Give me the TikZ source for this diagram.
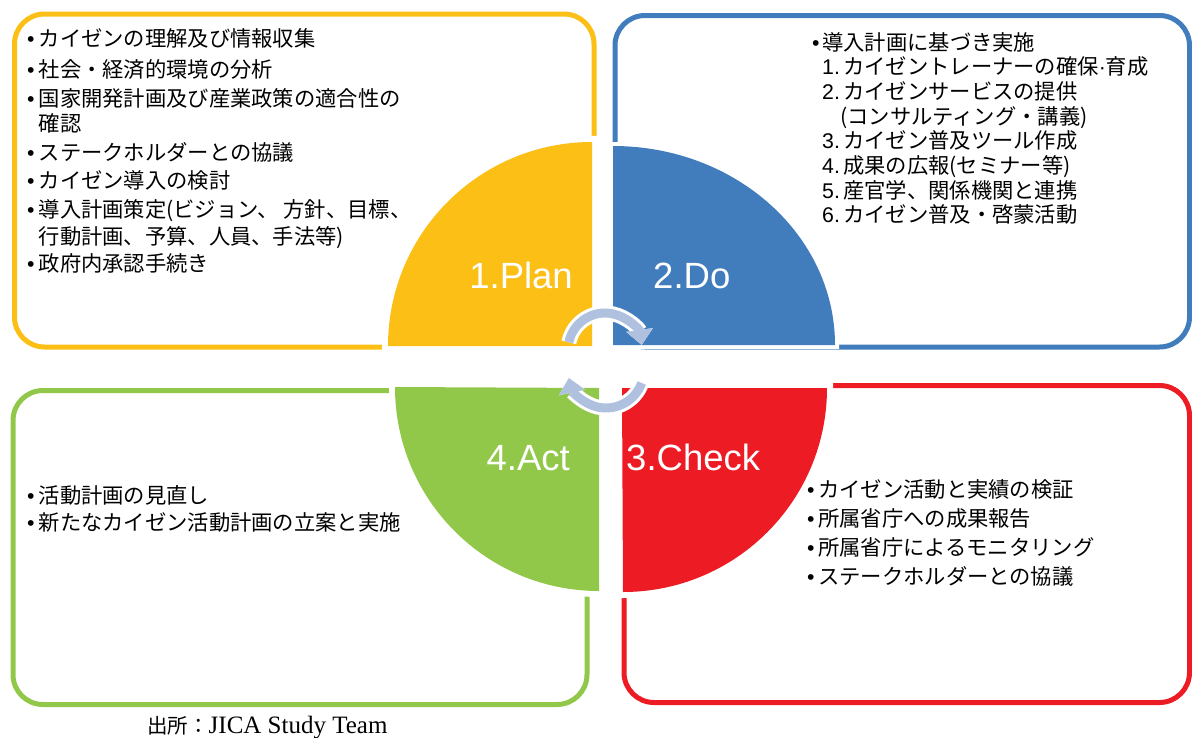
\documentclass[tikz,border=0pt]{standalone}
\usepackage{fontspec}
\setmainfont{Noto Sans CJK JP}
\newfontfamily\ar{Liberation Sans}
\newfontfamily\tms{Liberation Serif}
\usetikzlibrary{arrows.meta}
\definecolor{cyel}{HTML}{FBBF16}
\definecolor{cblu}{HTML}{417DBD}
\definecolor{cred}{HTML}{ED1C24}
\definecolor{cgrn}{HTML}{92C84A}
\definecolor{carr}{HTML}{B0C1DF}
\begin{document}
\begin{tikzpicture}[x=1pt,y=-1pt,
  box/.style={line width=5pt, rounded corners=30pt},
  wedge/.style={preaction={draw=white,line width=12pt}},
  jt/.style={anchor=base west, inner sep=0pt, font=\fontsize{21.3}{21.3}\selectfont},
  bul/.style={anchor=base west, inner sep=0pt, font=\ar\fontsize{21.3}{21.3}\selectfont},
  lab/.style={inner sep=0pt, text=white, font=\ar\fontsize{36.5}{36.5}\selectfont},
  arrline/.style={draw=carr, line width=9pt,
     preaction={draw=white, line width=15pt}},
]
\useasboundingbox (0,0) rectangle (1192,737);
% boxes
\draw[box, cyel] (14.5,14) rectangle (594,347);
\draw[box, cblu] (615,15.5) rectangle (1189.5,347);
\draw[box, cgrn] (13,390.5) rectangle (587,704.5);
\draw[box, cred] (624,385.5) rectangle (1189.5,702.5);
% wedges
\coordinate (cP) at (592,346);
\coordinate (cD) at (613,345);
\coordinate (cC) at (622,388);
\coordinate (cA) at (599,388);
\fill[cyel, wedge] (cP) -- ++(-204,0) arc[start angle=180, end angle=270, radius=204] -- cycle;
\fill[cblu, preaction={draw=white,line width=8pt}] (cD) -- ++(0,-199) arc[start angle=270, end angle=360, x radius=222, y radius=199] -- cycle;
\fill[cred, wedge] (cC) -- ++(205,0) arc[start angle=0, end angle=90, radius=204] -- cycle;
\fill[cgrn, wedge] (cA) -- ++(0,203) arc[start angle=90, end angle=180, radius=204] -- cycle;
% cycle arrows
\coordinate (tc) at (605,350);
\coordinate (bc) at (606,370);
\draw[arrline, -{Triangle[width=26pt,length=15pt]}] ([shift={(192:37)}]tc) arc[start angle=192, end angle=352, radius=37];
\draw[arrline, -{Triangle[width=26pt,length=15pt]}] ([shift={(20:38)}]bc) arc[start angle=20, end angle=168, radius=38];
% labels
\node[lab, anchor=base east] (lP) at (573,288) {1.Plan};
\node[lab, anchor=base west] (lD) at (653,288) {2.Do};
\node[lab, anchor=base east] (lA) at (570,470) {4.Act};
\node[lab, anchor=base west] (lC) at (626,470) {3.Check};
% Plan text
\node[bul] (pb1) at (27,46.5) {•};
\node[jt] (p1) at (38.5,46.5) {カイゼンの理解及び情報収集};
\node[bul] (pb2) at (27,77) {•};
\node[jt] (p2) at (38.5,77) {社会・経済的環境の分析};
\node[bul] (pb3) at (27,106) {•};
\node[jt] (p3) at (38.5,106) {国家開発計画及び産業政策の適合性の};
\node[jt] (p3b) at (38.5,131) {確認};
\node[bul] (pb4) at (27,160) {•};
\node[jt] (p4) at (38.5,160) {ステークホルダーとの協議};
\node[bul] (pb5) at (27,188) {•};
\node[jt] (p5) at (38.5,188) {カイゼン導入の検討};
\node[bul] (pb6) at (27,217) {•};
\node[jt] (p6) at (38.5,217) {導入計画策定(ビジョン、 方針、目標、};
\node[jt] (p6b) at (38.5,244) {行動計画、予算、人員、手法等)};
\node[bul] (pb7) at (27,271) {•};
\node[jt] (p7) at (38.5,271) {政府内承認手続き};
% Do text
\node[bul] (db0) at (812,50) {•};
\node[jt] (d0) at (822,50) {導入計画に基づき実施};
\node[bul] (dn1) at (822,74.7) {1.};
\node[jt] (d1) at (843,74.7) {カイゼントレーナーの確保{\ar ·}育成};
\node[bul] (dn2) at (822,99.4) {2.};
\node[jt] (d2) at (843,99.4) {カイゼンサービスの提供};
\node[jt] (d2b) at (840,124.1) {(コンサルティング・講義)};
\node[bul] (dn3) at (822,148.8) {3.};
\node[jt] (d3) at (843,148.8) {カイゼン普及ツール作成};
\node[bul] (dn4) at (822,173.5) {4.};
\node[jt] (d4) at (843,173.5) {成果の広報(セミナー等)};
\node[bul] (dn5) at (822,198.2) {5.};
\node[jt] (d5) at (843,198.2) {産官学、関係機関と連携};
\node[bul] (dn6) at (822,222.9) {6.};
\node[jt] (d6) at (843,222.9) {カイゼン普及・啓蒙活動};
% Check text
\node[bul] (cb1) at (807,497) {•};
\node[jt] (c1) at (818,497) {カイゼン活動と実績の検証};
\node[bul] (cb2) at (807,526) {•};
\node[jt] (c2) at (818,526) {所属省庁への成果報告};
\node[bul] (cb3) at (807,555) {•};
\node[jt] (c3) at (818,555) {所属省庁によるモニタリング};
\node[bul] (cb4) at (807,584) {•};
\node[jt] (c4) at (818,584) {ステークホルダーとの協議};
% Act text
\node[bul] (ab1) at (27,503) {•};
\node[jt] (a1) at (38.5,503) {活動計画の見直し};
\node[bul] (ab2) at (27,530) {•};
\node[jt] (a2) at (38.5,530) {新たなカイゼン活動計画の立案と実施};
% caption
\node[anchor=base west, inner sep=0pt] (cap) at (147,733) {{\fontsize{20.5}{20.5}\selectfont 出所：}{\tms\fontsize{25}{25}\selectfont JICA Study Team}};
\end{tikzpicture}
\end{document}
